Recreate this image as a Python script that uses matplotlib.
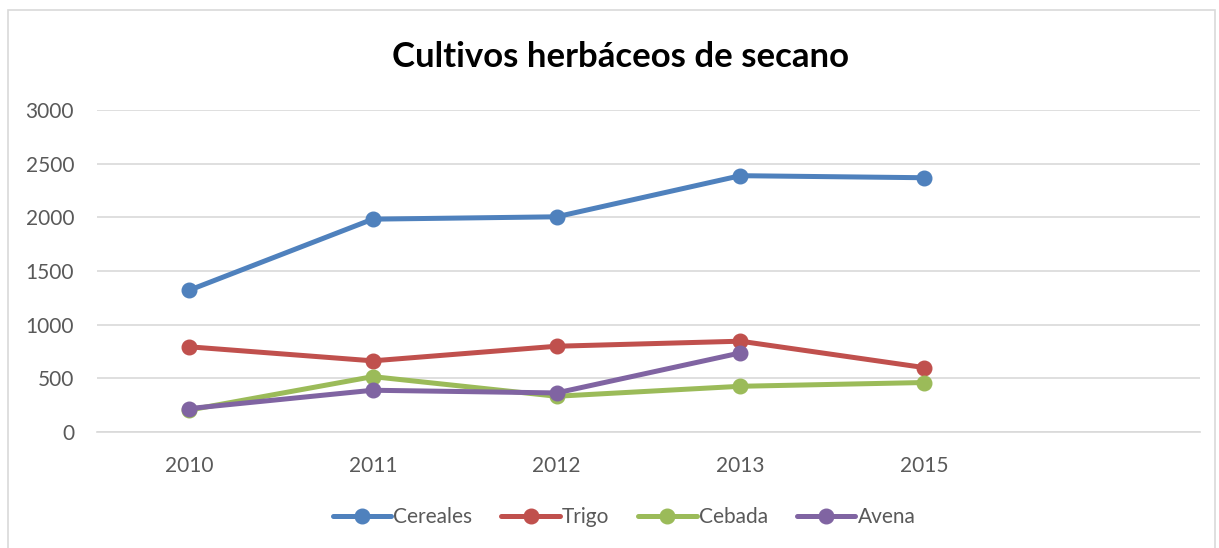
import matplotlib
matplotlib.use("Agg")
import matplotlib.pyplot as plt
from matplotlib.patches import Rectangle

categories = ["2010", "2011", "2012", "2013", "2015", ""]
cereales = [1320, 1983, 2005, 2388, 2369]
trigo = [794, 663, 799, 846, 600]
cebada = [204, 516, 333, 426, 461]
avena = [218, 389, 364, 737]
yticks = [0, 500, 1000, 1500, 2000, 2500, 3000]

series = [
    ("Cereales", cereales, "#4F81BD"),
    ("Trigo", trigo, "#C0504D"),
    ("Cebada", cebada, "#9BBB59"),
    ("Avena", avena, "#8064A2"),
]

plt.rcParams['font.family'] = ['Lato', 'DejaVu Sans']
fig = plt.figure(figsize=(12.19, 5.48), dpi=100)
W, H = 1219, 548
ax = fig.add_axes([97 / W, 1 - 432 / H, (1200 - 97) / W, (432 - 110) / H])

fig.patches.append(Rectangle((8 / W, -0.01), (1215 - 8) / W, 1 - 10 / H + 0.01,
                             transform=fig.transFigure, fill=False,
                             edgecolor="#D9D9D9", linewidth=1.2))

x_all = list(range(len(categories)))
for name, vals, col in series:
    ax.plot(x_all[:len(vals)], vals, color=col, linewidth=3.6, marker="o",
            markersize=10.5, label=name, solid_capstyle="round", zorder=3)

ax.set_xlim(-0.5, len(categories) - 0.5)
ax.set_ylim(0, 3000)
ax.set_yticks(yticks)
ax.set_xticks(x_all)
ax.set_xticklabels(categories)
ax.grid(axis="y", color="#D9D9D9", linewidth=1.2)
ax.set_axisbelow(True)
for s in ["top", "right", "left"]:
    ax.spines[s].set_visible(False)
ax.spines["bottom"].set_color("#D9D9D9")
ax.spines["bottom"].set_linewidth(1.2)
ax.tick_params(axis="both", length=0, labelsize=15, colors="#595959")
ax.tick_params(axis="y", pad=16.5)
ax.tick_params(axis="x", pad=17)

fig.text(620 / W, 1 - 57 / H, "Cultivos herbáceos de secano", ha="center", va="center",
         fontsize=25, fontweight="bold", color="black")

leg = fig.legend(loc="center", bbox_to_anchor=(624 / W, 1 - 517 / H), ncol=4,
                 frameon=False, fontsize=15, handlelength=2.8, handletextpad=0.1,
                 columnspacing=1.4)
for t in leg.get_texts():
    t.set_color("#595959")

fig.savefig("out.png", dpi=100)
